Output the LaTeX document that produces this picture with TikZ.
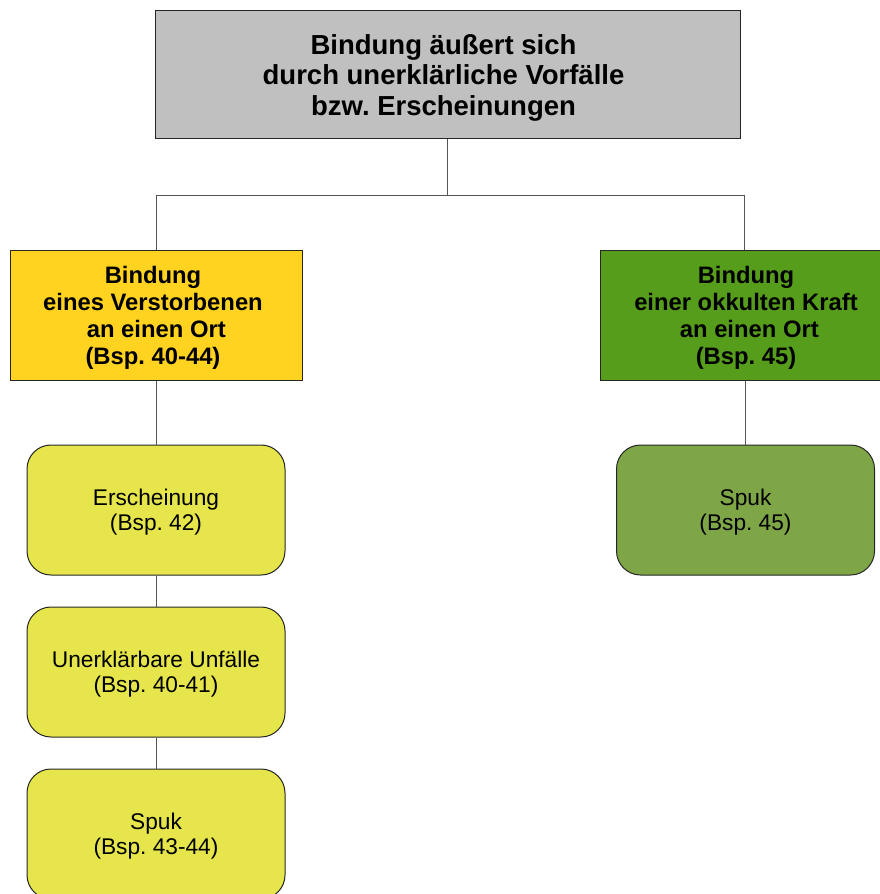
\documentclass[tikz,border=0pt]{standalone}
\usepackage{fontspec}
\setmainfont{Liberation Sans}
\frenchspacing
\definecolor{topgray}{HTML}{C0C0C0}
\definecolor{bindyellow}{HTML}{FFD320}
\definecolor{bindgreen}{HTML}{579D1C}
\definecolor{leafyellow}{HTML}{E6E64C}
\definecolor{leafgreen}{HTML}{7EA646}
\definecolor{linkgray}{HTML}{555555}
\begin{document}
\begin{tikzpicture}[x=1pt,y=-1pt,
  box/.style={draw=black!85, line width=1pt, inner sep=0pt},
  headbox/.style={box, fill=topgray, minimum width=585pt, minimum height=128pt},
  midbox/.style={box, minimum height=130pt},
  leafbox/.style={box, rounded corners=24pt, minimum width=258pt, minimum height=130pt},
  headtext/.style={inner sep=0pt, align=center, font=\fontsize{27.5}{30.5}\selectfont\bfseries},
  midtext/.style={inner sep=0pt, align=center, font=\fontsize{23.8}{27}\selectfont\bfseries},
  leaftext/.style={inner sep=0pt, align=center, font=\fontsize{22.7}{25.5}\selectfont},
  link/.style={draw=linkgray, line width=1pt}
]
\useasboundingbox (0,0) rectangle (880,894);
\fill[white] (0,0) rectangle (880,894);

% root
\node[headbox] (root) at (447.5,74) {};
\node[headtext] (rootT) at ([xshift=-4pt,yshift=-3.5pt]root.center)
  {Bindung äußert sich\\durch unerklärliche Vorfälle\\bzw. Erscheinungen};

% second level
\node[midbox, fill=bindyellow, minimum width=292pt] (dead) at (156,315) {};
\node[midtext] (deadT) at ([xshift=-3pt,yshift=-3pt]dead.center)
  {Bindung\\eines Verstorbenen\\\ an einen Ort\\(Bsp. 40-44)};
\node[midbox, fill=bindgreen, minimum width=282pt] (occult) at (741,315) {};
\node[midtext] (occultT) at ([xshift=5pt,yshift=-3pt]occult.center)
  {Bindung\\einer okkulten Kraft\\\ an einen Ort\\(Bsp. 45)};

% leaves
\node[leafbox, fill=leafyellow] (appar) at (156,510) {};
\node[leaftext] (apparT) at ([yshift=-2pt]appar.center) {Erscheinung\\(Bsp. 42)};
\node[leafbox, fill=leafyellow] (accid) at (156,672) {};
\node[leaftext] (accidT) at ([yshift=-2pt]accid.center) {Unerklärbare Unfälle\\(Bsp. 40-41)};
\node[leafbox, fill=leafyellow] (spukA) at (156,834) {};
\node[leaftext] (spukAT) at ([yshift=-2pt]spukA.center) {Spuk\\(Bsp. 43-44)};
\node[leafbox, fill=leafgreen] (spukB) at (745.5,510) {};
\node[leaftext] (spukBT) at ([yshift=-2pt]spukB.center) {Spuk\\(Bsp. 45)};

% connectors
\coordinate (fork) at (447.5,195);
\draw[link] (root.south) -- (fork);
\draw[link] (dead.north) |- (fork);
\draw[link] (occult.north -| 744.5,0) |- (fork);
\draw[link] (dead.south) -- (appar.north);
\draw[link] (appar.south) -- (accid.north);
\draw[link] (accid.south) -- (spukA.north);
\draw[link] (occult.south -| spukB.north) -- (spukB.north);
\end{tikzpicture}
\end{document}
